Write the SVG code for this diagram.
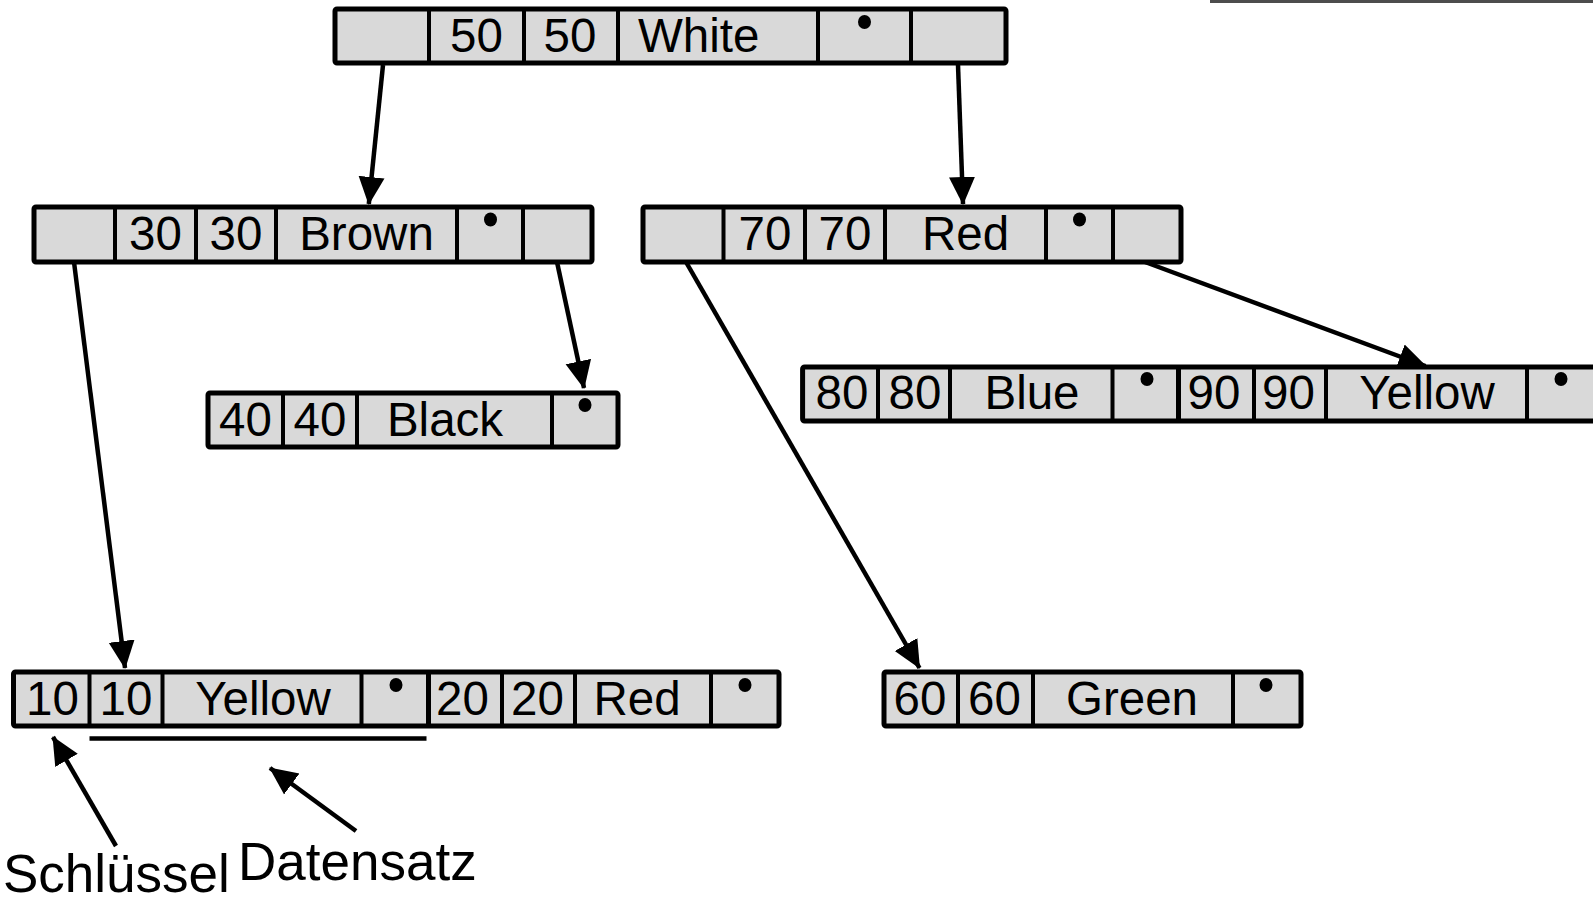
<svg xmlns="http://www.w3.org/2000/svg" width="1593" height="901" viewBox="0 0 1593 901">
<style>
.box{fill:#d9d9d9;stroke:#000;stroke-width:5;stroke-linejoin:round}
.div{stroke:#000;stroke-width:4}
.thick{stroke:#000;stroke-width:5}
.t{font-family:"Liberation Sans",Arial,sans-serif;font-size:47.5px;fill:#000;text-anchor:middle}
.lbl{font-family:"Liberation Sans",Arial,sans-serif;font-size:53px;fill:#000}
.dot{fill:#000}
.con{stroke:#000;stroke-width:4.5;fill:none}
</style>
<defs>
<marker id="ah" markerUnits="userSpaceOnUse" viewBox="0 0 28 28" refX="27" refY="14" markerWidth="28" markerHeight="28" orient="auto">
<path d="M0,1 L28,14 L0,27 z" fill="#000"/>
</marker>
</defs>
<rect x="1210" y="0" width="383" height="3" fill="#4d4d4d"/>

<g id="node-50">
<rect class="box" x="335" y="9" width="671" height="54" rx="2"/>
<path class="div" d="M429,9V63M524,9V63M618,9V63M818,9V63M911,9V63"/>
<text class="t" x="476.5" y="52">50</text>
<text class="t" x="570" y="52">50</text>
<text class="t" x="638" y="52" style="text-anchor:start">White</text>
<ellipse class="dot" cx="864.5" cy="22" rx="6.5" ry="7"/>
</g>

<g id="node-30">
<rect class="box" x="34" y="207" width="558" height="55" rx="2"/>
<path class="div" d="M115,207V262M196,207V262M276,207V262M457,207V262M523,207V262"/>
<text class="t" x="155.5" y="250">30</text>
<text class="t" x="236" y="250">30</text>
<text class="t" x="366.5" y="250">Brown</text>
<ellipse class="dot" cx="490.5" cy="219.5" rx="6.5" ry="7"/>
</g>

<g id="node-70">
<rect class="box" x="643" y="207" width="538" height="55" rx="2"/>
<path class="div" d="M723.5,207V262M805,207V262M885,207V262M1046,207V262M1113,207V262"/>
<text class="t" x="765" y="250">70</text>
<text class="t" x="845" y="250">70</text>
<text class="t" x="965.5" y="250">Red</text>
<ellipse class="dot" cx="1079.5" cy="219.5" rx="6.5" ry="7"/>
</g>

<g id="node-40">
<rect class="box" x="208" y="393" width="410" height="54" rx="2"/>
<path class="div" d="M283,393V447M357,393V447M552,393V447"/>
<text class="t" x="245.5" y="436">40</text>
<text class="t" x="320" y="436">40</text>
<text class="t" x="445" y="436">Black</text>
<ellipse class="dot" cx="585" cy="405" rx="6.5" ry="7"/>
</g>

<g id="node-80-90">
<rect class="box" x="802.6" y="367" width="800" height="54" rx="2"/>
<path class="div" d="M878,367V421M950,367V421M1112.5,367V421M1254,367V421M1326,367V421M1527,367V421"/>
<path class="thick" d="M1178.5,367V421"/>
<text class="t" x="842" y="409">80</text>
<text class="t" x="915" y="409">80</text>
<text class="t" x="1032" y="409">Blue</text>
<ellipse class="dot" cx="1147" cy="379" rx="6.5" ry="7"/>
<text class="t" x="1214" y="409">90</text>
<text class="t" x="1288.5" y="409">90</text>
<text class="t" x="1427" y="409">Yellow</text>
<ellipse class="dot" cx="1561" cy="379" rx="6.5" ry="7"/>
</g>

<g id="node-10-20">
<rect class="box" x="13.5" y="672" width="765.5" height="54" rx="2"/>
<path class="div" d="M89.5,672V726M162.5,672V726M361.5,672V726M502,672V726M575,672V726M711,672V726"/>
<path class="thick" d="M428.5,672V726"/>
<text class="t" x="52.5" y="715">10</text>
<text class="t" x="126" y="715">10</text>
<text class="t" x="263" y="715">Yellow</text>
<ellipse class="dot" cx="396" cy="685" rx="6.5" ry="7"/>
<text class="t" x="462.5" y="715">20</text>
<text class="t" x="537.5" y="715">20</text>
<text class="t" x="637" y="715">Red</text>
<ellipse class="dot" cx="745" cy="685" rx="6.5" ry="7"/>
</g>

<g id="node-60">
<rect class="box" x="884" y="672" width="417" height="54" rx="2"/>
<path class="div" d="M958,672V726M1033,672V726M1233,672V726"/>
<text class="t" x="920" y="715">60</text>
<text class="t" x="994.5" y="715">60</text>
<text class="t" x="1132" y="715">Green</text>
<ellipse class="dot" cx="1266" cy="685" rx="6.5" ry="7"/>
</g>

<g id="connectors">
<line class="con" x1="383" y1="65" x2="368.8" y2="204" marker-end="url(#ah)"/>
<line class="con" x1="958" y1="65" x2="963" y2="204" marker-end="url(#ah)"/>
<line class="con" x1="74" y1="262" x2="125" y2="668" marker-end="url(#ah)"/>
<line class="con" x1="557" y1="262" x2="584" y2="388" marker-end="url(#ah)"/>
<line class="con" x1="686" y1="262" x2="919.5" y2="668" marker-end="url(#ah)"/>
<line class="con" x1="1145" y1="262" x2="1425.5" y2="366" marker-end="url(#ah)"/>
</g>

<g id="annotations">
<line class="con" x1="89.5" y1="738.5" x2="426.5" y2="738.5"/>
<line class="con" x1="116" y1="846" x2="53" y2="737" marker-end="url(#ah)"/>
<line class="con" x1="356" y1="831" x2="270" y2="768" marker-end="url(#ah)"/>
<text class="lbl" x="3" y="892">Schlüssel</text>
<text class="lbl" x="238" y="880">Datensatz</text>
</g>
</svg>
